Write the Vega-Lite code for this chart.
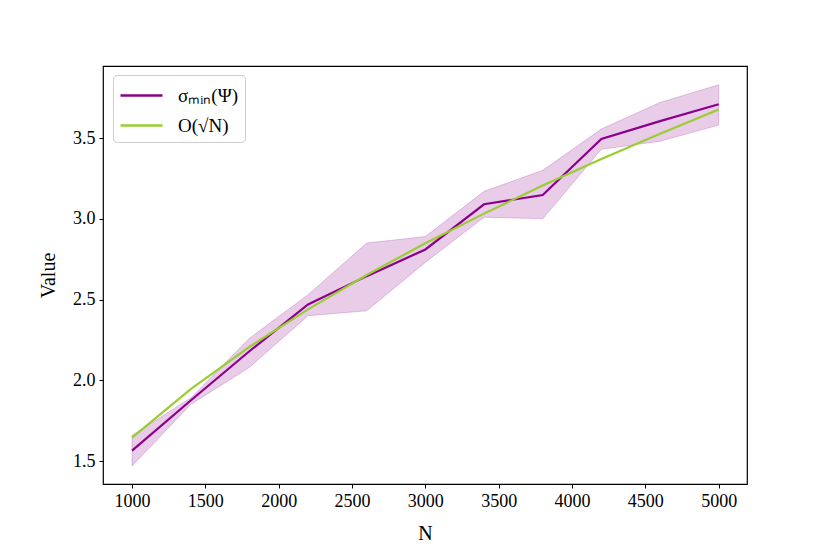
{
  "$schema": "https://vega.github.io/schema/vega-lite/v6.json",
  "autosize": {"type": "none"},
  "padding": {"left": 103, "top": 66, "right": 83, "bottom": 70},
  "width": 644,
  "height": 418,
  "background": "white",
  "config": {
    "font": "Liberation Serif",
    "view": {"stroke": "black", "strokeWidth": 1.2},
    "axis": {
      "grid": false,
      "domain": false,
      "tickColor": "black",
      "tickSize": 4,
      "tickWidth": 1,
      "labelColor": "black",
      "labelFontSize": 18,
      "labelPadding": 4,
      "labelFont": "Liberation Serif",
      "titleFont": "Liberation Serif",
      "titleFontSize": 20,
      "titleFontWeight": "normal",
      "titleColor": "black"
    }
  },
  "data": {
    "values": [
      {"N": 1000, "series": "σₘᵢₙ(Ψ)", "value": 1.565, "lo": 1.47, "hi": 1.66},
      {"N": 1400, "series": "σₘᵢₙ(Ψ)", "value": 1.875, "lo": 1.85, "hi": 1.89},
      {"N": 1800, "series": "σₘᵢₙ(Ψ)", "value": 2.18, "lo": 2.08, "hi": 2.26},
      {"N": 2200, "series": "σₘᵢₙ(Ψ)", "value": 2.47, "lo": 2.4, "hi": 2.53},
      {"N": 2600, "series": "σₘᵢₙ(Ψ)", "value": 2.645, "lo": 2.43, "hi": 2.85},
      {"N": 3000, "series": "σₘᵢₙ(Ψ)", "value": 2.81, "lo": 2.73, "hi": 2.89},
      {"N": 3400, "series": "σₘᵢₙ(Ψ)", "value": 3.09, "lo": 3.01, "hi": 3.17},
      {"N": 3800, "series": "σₘᵢₙ(Ψ)", "value": 3.147, "lo": 3.0, "hi": 3.3},
      {"N": 4200, "series": "σₘᵢₙ(Ψ)", "value": 3.494, "lo": 3.43, "hi": 3.556},
      {"N": 4600, "series": "σₘᵢₙ(Ψ)", "value": 3.605, "lo": 3.48, "hi": 3.72},
      {"N": 5000, "series": "σₘᵢₙ(Ψ)", "value": 3.709, "lo": 3.58, "hi": 3.83},
      {"N": 1000, "series": "O(√N)", "value": 1.645},
      {"N": 1400, "series": "O(√N)", "value": 1.946},
      {"N": 1800, "series": "O(√N)", "value": 2.207},
      {"N": 2200, "series": "O(√N)", "value": 2.439},
      {"N": 2600, "series": "O(√N)", "value": 2.652},
      {"N": 3000, "series": "O(√N)", "value": 2.849},
      {"N": 3400, "series": "O(√N)", "value": 3.032},
      {"N": 3800, "series": "O(√N)", "value": 3.206},
      {"N": 4200, "series": "O(√N)", "value": 3.37},
      {"N": 4600, "series": "O(√N)", "value": 3.527},
      {"N": 5000, "series": "O(√N)", "value": 3.677}
    ]
  },
  "encoding": {
    "x": {
      "field": "N",
      "type": "quantitative",
      "scale": {"domain": [802, 5193], "nice": false, "zero": false},
      "axis": {"values": [1000, 1500, 2000, 2500, 3000, 3500, 4000, 4500, 5000], "format": "d", "title": "N", "titlePadding": 13}
    }
  },
  "layer": [
    {
      "transform": [{"filter": "datum.series === 'σₘᵢₙ(Ψ)'"}],
      "mark": {"type": "area", "color": "#8b008b", "fillOpacity": 0.2, "stroke": "#8b008b", "strokeOpacity": 0.2, "strokeWidth": 1},
      "encoding": {
        "y": {"field": "lo", "type": "quantitative"},
        "y2": {"field": "hi"}
      }
    },
    {
      "mark": {"type": "line", "strokeWidth": 2.2},
      "encoding": {
        "y": {
          "field": "value",
          "type": "quantitative",
          "scale": {"domain": [1.358, 3.946], "nice": false, "zero": false},
          "axis": {"values": [1.5, 2.0, 2.5, 3.0, 3.5], "format": ".1f", "title": "Value", "titlePadding": 14}
        },
        "color": {
          "field": "series",
          "type": "nominal",
          "scale": {"domain": ["σₘᵢₙ(Ψ)", "O(√N)"], "range": ["#8b008b", "#9acd32"]},
          "legend": {
            "title": null,
            "orient": "none",
            "legendX": 10,
            "legendY": 9,
            "symbolType": "M-1,0H2.23",
            "symbolSize": 676,
            "symbolStrokeWidth": 2.4,
            "labelFontSize": 19,
            "labelFont": "Liberation Serif",
            "labelOffset": 30,
            "labelColor": "black",
            "rowPadding": 5,
            "strokeColor": "#cccccc",
            "fillColor": "white",
            "cornerRadius": 4,
            "padding": 6
          }
        }
      }
    }
  ]
}
